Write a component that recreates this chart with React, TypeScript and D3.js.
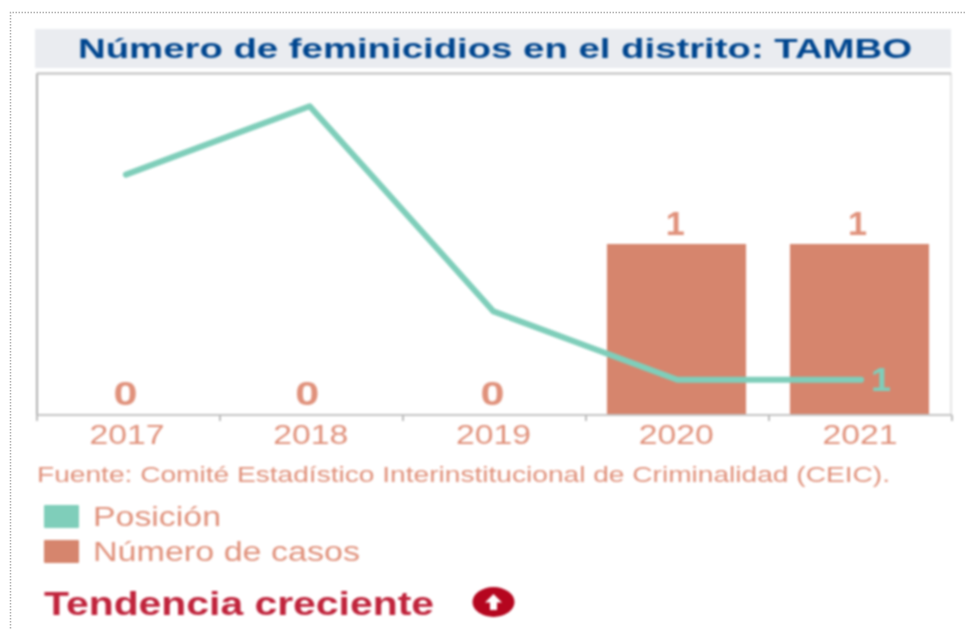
import React from "react";
import * as d3 from "d3";

const years = ["2017", "2018", "2019", "2020", "2021"];
const casos = [0, 0, 0, 1, 1];
const posicion = [4, 5, 2, 1, 1];
const titleText = "Número de feminicidios en el distrito: TAMBO";
const sourceText = "Fuente: Comité Estadístico Interinstitucional de Criminalidad (CEIC).";
const legendItems = ["Posición", "Número de casos"];
const trendText = "Tendencia creciente";

const TEAL = "#7fceba";
const SALMON = "#d6856d";
const LABEL = "#e0917b";
const FONT = "'Liberation Sans', Arial, sans-serif";

export default function App() {
  const left = 37, right = 952, top = 73, bottom = 415;
  const x = d3.scaleBand<string>().domain(years).range([34, 953]).paddingInner(0.24).paddingOuter(0.12);
  const xBar = d3.scaleBand<string>().domain(years).range([36, 951]).paddingInner(0.24).paddingOuter(0.12);
  const y = d3.scaleLinear().domain([0, 2]).range([bottom, top]);
  const yPos = d3.scaleLinear().domain([0.5, 5.5]).range([bottom - 1, top - 1]);
  const center = (d: string) => (x(d) as number) + x.bandwidth() / 2;
  const line = d3.line<number>().x((_, i) => center(years[i])).y((d) => yPos(d));
  const step = (right - left) / years.length;
  const ticks = d3.range(years.length + 1).map((i) => left + i * step);

  return (
    <svg
      width={965}
      height={630}
      viewBox="0 0 965 630"
      style={{ position: "absolute", left: 0, top: 0, background: "#fff", fontFamily: FONT }}
    >
      <path d="M965 12.5H10.5V630" fill="none" stroke="#b0b0b0" strokeWidth={1.5} strokeDasharray="1.5 1.5" />
      <g style={{ filter: "blur(0.8px)" }}>
        <rect x={35} y={29} width={916} height={39} fill="#eaecf0" />
        <text x={78} y={57.5} textLength={834} lengthAdjust="spacingAndGlyphs" fontSize={28} fontWeight={700} fill="#00468f">
          {titleText}
        </text>

        <path d={`M${right - 1} ${bottom}V${top}`} fill="none" stroke="#dcdcdc" strokeWidth={1.5} />
        <path d={`M${left} 73.5V${bottom}`} fill="none" stroke="#b0b0b0" strokeWidth={2} />
        <path d={`M${left} 73.5H${right - 1}`} fill="none" stroke="#bcbcbc" strokeWidth={2} />

        {years.map((d, i) =>
          casos[i] > 0 ? (
            <rect key={d} x={xBar(d)} y={y(casos[i])} width={xBar.bandwidth()} height={bottom - y(casos[i])} fill={SALMON} />
          ) : null
        )}

        <path d={`M${left} ${bottom}H${right}`} stroke="#c4c4c4" strokeWidth={2} fill="none" />
        {ticks.map((t) => (
          <line key={t} x1={t} x2={t} y1={bottom} y2={421} stroke="#bcbcbc" strokeWidth={2} />
        ))}

        <path d={line(posicion) ?? ""} fill="none" stroke={TEAL} strokeWidth={6} strokeLinejoin="round" strokeLinecap="round" />

        {years.map((d, i) => (
          <text
            key={d}
            x={center(d) + [-0.5, -2.5, -1, -2, -3.5][i]}
            y={y(casos[i]) - (casos[i] > 0 ? 9 : 10.5)}
            textAnchor="middle"
            fontSize={33}
            fontWeight={700}
            fill={LABEL}
            textLength={casos[i] > 0 ? 19 : 24}
            lengthAdjust="spacingAndGlyphs"
          >
            {casos[i]}
          </text>
        ))}
        <text x={881} y={yPos(posicion[4]) + 11} textAnchor="middle" fontSize={33} fontWeight={700} fill={TEAL} textLength={20} lengthAdjust="spacingAndGlyphs">
          {posicion[4]}
        </text>

        {years.map((d, i) => (
          <text key={d} x={center(d) + [1, 1, 0, -1, -1][i]} y={444} textAnchor="middle" fontSize={28} fill={LABEL} textLength={75} lengthAdjust="spacingAndGlyphs">
            {d}
          </text>
        ))}

        <text x={37} y={482} fontSize={22} fill={LABEL} textLength={853} lengthAdjust="spacingAndGlyphs">
          {sourceText}
        </text>

        <rect x={44} y={505} width={35} height={23} fill={TEAL} rx={1} />
        <text x={93} y={525.5} fontSize={27} fill={LABEL} textLength={128} lengthAdjust="spacingAndGlyphs">
          {legendItems[0]}
        </text>
        <rect x={44} y={540} width={35} height={23} fill={SALMON} rx={1} />
        <text x={93} y={560.5} fontSize={27} fill={LABEL} textLength={267} lengthAdjust="spacingAndGlyphs">
          {legendItems[1]}
        </text>

        <text x={44} y={615} fontSize={33} fontWeight={700} fill="#c0243c" textLength={390} lengthAdjust="spacingAndGlyphs">
          {trendText}
        </text>
        <ellipse cx={493.5} cy={602} rx={21} ry={15} fill="#b5061f" />
        <path d="M493.5 594L502 602.5H497V610H490V602.5H485Z" fill="#fff" />
      </g>
    </svg>
  );
}
